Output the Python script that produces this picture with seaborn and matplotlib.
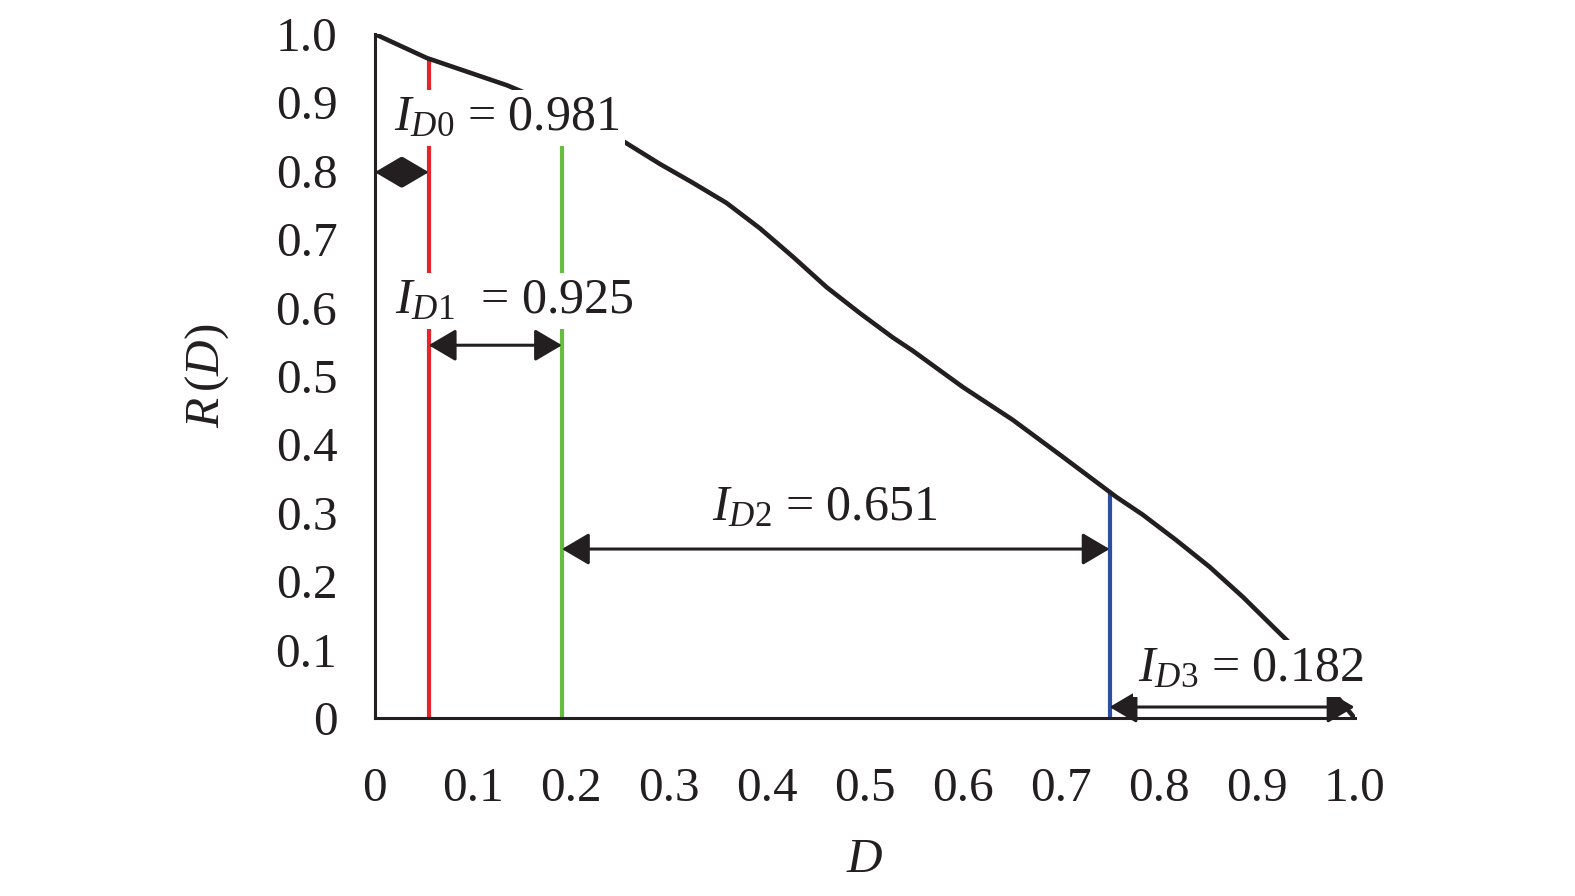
import matplotlib
matplotlib.use("Agg")
import matplotlib.pyplot as plt
import seaborn as sns
import numpy as np

# ---- data ----
D_vals = [0.0, 0.053, 0.135, 0.19, 0.255, 0.291, 0.324, 0.359, 0.393, 0.427, 0.461,
          0.495, 0.529, 0.549, 0.600, 0.651, 0.702, 0.757, 0.784, 0.818, 0.852,
          0.886, 0.920, 0.955, 0.98, 1.0]
R_vals = [1.0, 0.965, 0.925, 0.892, 0.842, 0.810, 0.783, 0.753, 0.716, 0.674, 0.630,
          0.592, 0.556, 0.537, 0.484, 0.436, 0.382, 0.323, 0.297, 0.260, 0.221,
          0.177, 0.129, 0.08, 0.035, 0.0]

split_D = [0.055, 0.191, 0.75]          # red, green, blue dividers
split_top = [0.965, 0.89, 0.329]
split_colors = ["#e4252b", "#66bd3f", "#2e4fa0"]

interval_names = ["D0", "D1", "D2", "D3"]
interval_values = [0.981, 0.925, 0.651, 0.182]
interval_bounds = [(0.0, 0.055), (0.055, 0.191), (0.191, 0.75), (0.75, 1.0)]

x_ticks = [0, 0.1, 0.2, 0.3, 0.4, 0.5, 0.6, 0.7, 0.8, 0.9, 1.0]
x_tick_labels = ["0", "0.1", "0.2", "0.3", "0.4", "0.5", "0.6", "0.7", "0.8", "0.9", "1.0"]
y_ticks = x_ticks
y_tick_labels = x_tick_labels

# ---- layout (positions of annotations) ----
arrow_y = [0.798, 0.545, 0.247, 0.016]
label_xy = [(0.135, 0.877), (0.143, 0.610), (0.459, 0.307), (0.894, 0.072)]
label_fmt = [r"$I_{%s}$ = %.3f", r"$I_{%s}$  = %.3f", r"$I_{%s}$ = %.3f", r"$I_{%s}$ = %.3f"]

sns.set_theme(style="white")
plt.rcParams["font.family"] = ["Liberation Serif", "DejaVu Serif"]
plt.rcParams["mathtext.fontset"] = "custom"
plt.rcParams["mathtext.rm"] = "Liberation Serif"
plt.rcParams["mathtext.it"] = "Liberation Serif:italic"
plt.rcParams["mathtext.bf"] = "Liberation Serif:bold"

FS = 35.5
FS_LAB = 36
ink = "#231f20"

fig = plt.figure(figsize=(15.75, 8.96), dpi=100)
ax = fig.add_axes([0.238, 0.1987, 0.622, 0.7633])

sns.lineplot(x=D_vals, y=R_vals, ax=ax, color=ink, lw=3.3, sort=False,
             estimator=None, zorder=2, solid_joinstyle="round")

ax.vlines(split_D, 0, split_top, colors=split_colors, lw=3.0, zorder=1)

for (x0, x1), y in zip(interval_bounds, arrow_y):
    ax.annotate("", xy=(x1, y), xytext=(x0, y),
                arrowprops=dict(arrowstyle="<|-|>,head_length=0.56,head_width=0.33",
                                mutation_scale=30, color=ink, lw=2.2,
                                shrinkA=0, shrinkB=0), zorder=3)

for name, val, (tx, ty), fmt in zip(interval_names, interval_values, label_xy, label_fmt):
    ax.text(tx, ty, fmt % (name, val), fontsize=FS_LAB, ha="center", va="center",
            color=ink, zorder=5,
            bbox=dict(boxstyle="square,pad=0.1", fc="white", ec="none"))

ax.set_xlim(0, 1)
ax.set_ylim(0, 1)
ax.set_xticks(x_ticks)
ax.set_xticklabels(x_tick_labels)
ax.set_yticks(y_ticks)
ax.set_yticklabels(y_tick_labels)
ax.tick_params(axis="both", direction="in", length=7.5, width=2, colors=ink,
               labelsize=FS, labelcolor=ink)
ax.tick_params(axis="x", pad=35)
ax.tick_params(axis="y", pad=27)

for s in ["top", "right"]:
    ax.spines[s].set_visible(False)
for s in ["left", "bottom"]:
    ax.spines[s].set_color(ink)
    ax.spines[s].set_linewidth(2.2)

ax.set_xlabel(r"$D$", fontsize=FS, color=ink, labelpad=20)
ax.set_ylabel(r"$R\,(D)$", fontsize=FS, color=ink, labelpad=32)
ax.grid(False)

fig.savefig("out.png", dpi=100)
